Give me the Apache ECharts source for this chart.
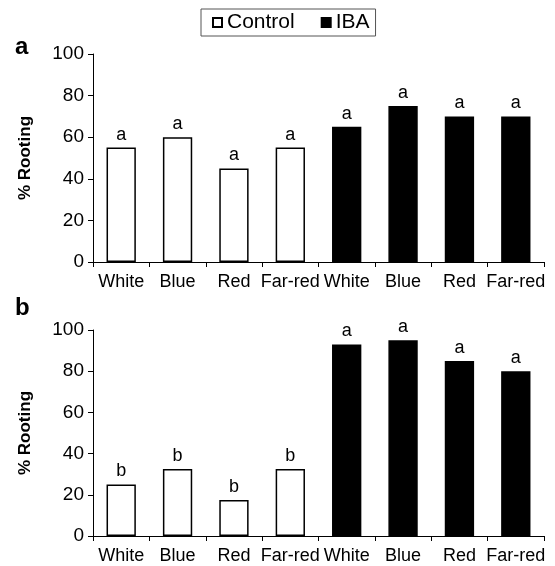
<!DOCTYPE html>
<html lang="en">
<head>
  <meta charset="UTF-8">
  <title>Rooting</title>
  <script src="https://cdn.jsdelivr.net/npm/echarts@6/dist/echarts.min.js"></script>
  <style>
    html, body { margin: 0; padding: 0; background: #fff; }
    #chart { width: 555px; height: 566px; }
  </style>
</head>
<body>
  <div id="chart"></div>
  <script>
    var categories = ['White', 'Blue', 'Red', 'Far-red', 'White', 'Blue', 'Red', 'Far-red']
    var yTicks = [0, 20, 40, 60, 80, 100]

    // panel a
    var controlA = [55, 60, 45, 55, '-', '-', '-', '-']
    var ibaA = ['-', '-', '-', '-', 65, 75, 70, 70]
    var lettersA = ['a', 'a', 'a', 'a', 'a', 'a', 'a', 'a']

    // panel b
    var controlB = [25, 32.5, 17.5, 32.5, '-', '-', '-', '-']
    var ibaB = ['-', '-', '-', '-', 93, 95, 85, 80]
    var lettersB = ['b', 'b', 'b', 'b', 'a', 'a', 'a', 'a']

    var font = 'Liberation Sans, Arial, sans-serif'
    var chart = echarts.init(document.getElementById('chart'))

    function xAxis (grid) {
      return {
        type: 'category',
        gridIndex: grid,
        data: categories,
        axisLine: { lineStyle: { color: '#000', width: 1 } },
        axisTick: { show: true, alignWithLabel: false, length: 5, lineStyle: { color: '#000' } },
        axisLabel: { color: '#000', fontSize: 18, fontFamily: font, margin: 11, interval: 0 }
      }
    }

    function yAxis (grid) {
      return {
        type: 'value',
        gridIndex: grid,
        min: yTicks[0],
        max: yTicks[yTicks.length - 1],
        interval: 20,
        name: '% Rooting',
        nameLocation: 'middle',
        nameGap: 59,
        nameTextStyle: { color: '#000', fontSize: 17, fontWeight: 'bold', fontFamily: font },
        axisLine: { show: true, lineStyle: { color: '#000', width: 1 } },
        axisTick: { show: true, length: 5, lineStyle: { color: '#000' } },
        axisLabel: { color: '#000', fontSize: 19, fontFamily: font, margin: 9 },
        splitLine: { show: false }
      }
    }

    function labelOf (letters) {
      return {
        show: true,
        position: 'top',
        distance: 4,
        color: '#000',
        fontSize: 18,
        fontFamily: font,
        formatter: function (p) { return letters[p.dataIndex] }
      }
    }

    function bars (name, data, letters, idx, fill) {
      return {
        name: name,
        type: 'bar',
        xAxisIndex: idx,
        yAxisIndex: idx,
        data: data,
        barGap: '-100%',
        barCategoryGap: '48%',
        itemStyle: { color: fill, borderColor: '#000', borderWidth: 1.5 },
        label: labelOf(letters),
        emphasis: { disabled: true }
      }
    }

    chart.setOption({
      animation: false,
      legend: {
        data: ['Control', 'IBA'],
        left: 201,
        top: 9,
        padding: [3, 6, 3, 11],
        borderColor: '#555',
        borderWidth: 1,
        itemWidth: 9,
        itemHeight: 9,
        itemGap: 26,
        icon: 'rect',
        textStyle: { color: '#000', fontSize: 21, fontFamily: font }
      },
      grid: [
        { left: 93, right: 11, top: 54, height: 208 },
        { left: 93, right: 11, top: 330, height: 206 }
      ],
      xAxis: [xAxis(0), xAxis(1)],
      yAxis: [yAxis(0), yAxis(1)],
      graphic: [
        { type: 'text', left: 15, top: 35, style: { text: 'a', fontSize: 24, fontWeight: 'bold', fontFamily: font, fill: '#000' } },
        { type: 'text', left: 15, top: 296, style: { text: 'b', fontSize: 24, fontWeight: 'bold', fontFamily: font, fill: '#000' } }
      ],
      series: [
        bars('Control', controlA, lettersA, 0, '#fff'),
        bars('IBA', ibaA, lettersA, 0, '#000'),
        bars('Control', controlB, lettersB, 1, '#fff'),
        bars('IBA', ibaB, lettersB, 1, '#000')
      ]
    })
  </script>
</body>
</html>
